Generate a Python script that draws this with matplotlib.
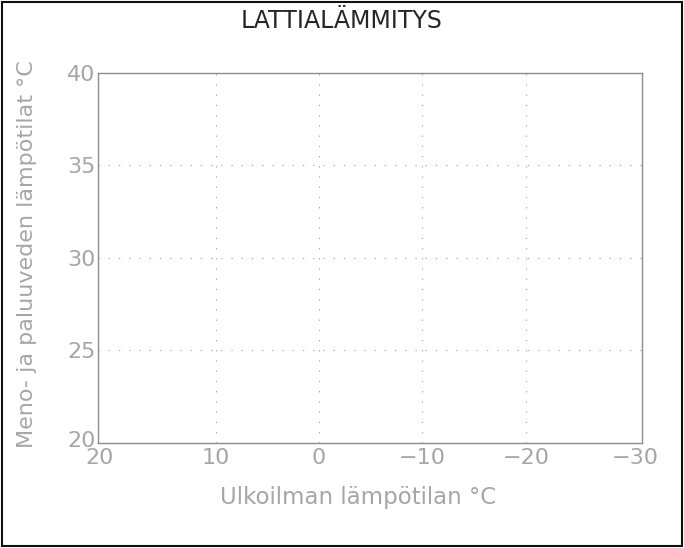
import matplotlib
matplotlib.use("Agg")
import matplotlib.pyplot as plt
from matplotlib.patches import Rectangle
from matplotlib.transforms import ScaledTranslation

title = "LATTIALÄMMITYS"
x_label = "Ulkoilman lämpötilan °C"
y_label = "Meno- ja paluuveden lämpötilat °C"
x_ticks = [20, 10, 0, -10, -20, -30]
y_ticks = [20, 25, 30, 35, 40]
x_range = (21.36, -31.23)
y_range = (20, 40)

_TXT = "#a6a6a6"
_SPINE = "#8c8c8c"
_GRID = "#a8a8a8"

plt.rcParams["font.family"] = ["DejaVu Sans"]

fig = plt.figure(figsize=(6.84, 5.48), dpi=100)
ax = fig.add_axes([0.1437, 0.1925, 0.7945, 0.6752])

ax.set_xlim(*x_range)
ax.set_ylim(*y_range)

ax.set_xticks(x_ticks, labels=[str(v).replace("-", "\u2212") for v in x_ticks])
ax.set_yticks(y_ticks, labels=[str(v) for v in y_ticks])
ax.tick_params(length=0, labelsize=16, labelcolor=_TXT)
ax.tick_params(axis="x", pad=4)
ax.tick_params(axis="y", pad=2)

# end labels sit at the frame edges in the original
xl = ax.get_xticklabels()
xl[0].set_transform(xl[0].get_transform() + ScaledTranslation(-0.13, 0, fig.dpi_scale_trans))
xl[-1].set_transform(xl[-1].get_transform() + ScaledTranslation(0.06, 0, fig.dpi_scale_trans))
yl = ax.get_yticklabels()
yl[0].set_transform(yl[0].get_transform() + ScaledTranslation(0, 0.04, fig.dpi_scale_trans))

for v in x_ticks[1:-1]:
    ax.axvline(v, color=_GRID, lw=0.8, ls=(0, (1.2, 8)))
for v in y_ticks[1:-1]:
    ax.axhline(v, color=_GRID, lw=0.8, ls=(0, (1.2, 8)))

for s in ax.spines.values():
    s.set_color(_SPINE)
    s.set_linewidth(1.0)

fig.text(0.499, 0.962, title, ha="center", va="center", fontsize=17,
         color="#262626")
fig.text(0.523, 0.093, x_label, ha="center", va="center", fontsize=16.5,
         color=_TXT)
fig.text(0.040, 0.537, y_label, ha="center", va="center", rotation=90,
         fontsize=16, color=_TXT)

fig.add_artist(Rectangle((0.003, 0.003), 0.994, 0.994, transform=fig.transFigure,
                         fill=False, edgecolor="#111111", lw=1.5))

fig.savefig("out.png", dpi=100, facecolor="white")
